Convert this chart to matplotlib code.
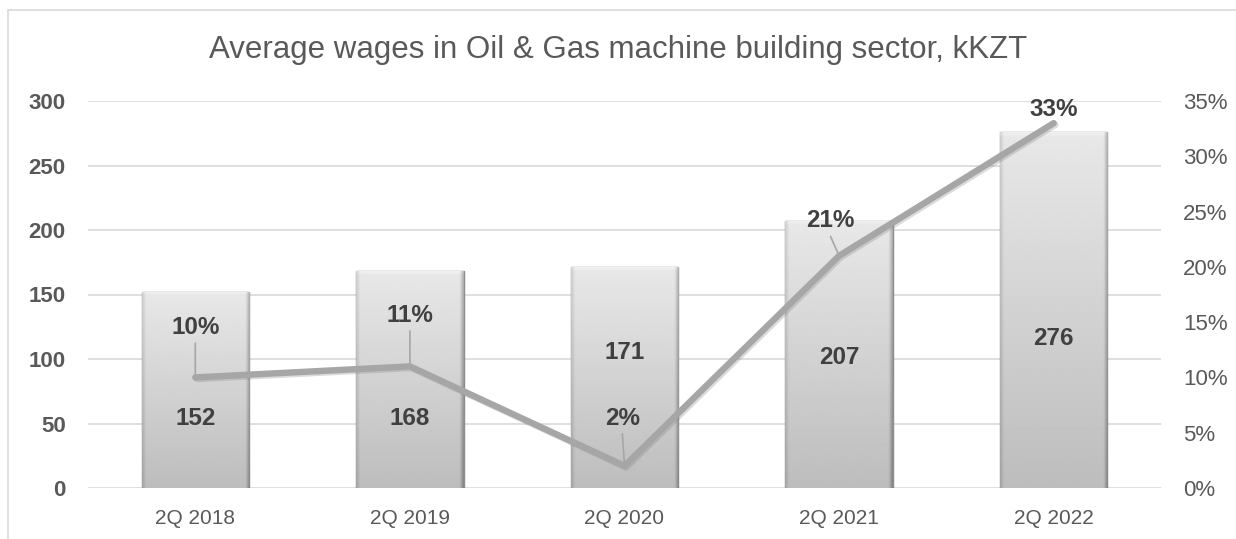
import numpy as np
import matplotlib
matplotlib.use("Agg")
import matplotlib.pyplot as plt
import matplotlib.patheffects as pe
from matplotlib.patches import Rectangle
from matplotlib.ticker import FuncFormatter

plt.rcParams['font.family'] = ['Liberation Sans', 'DejaVu Sans']

# data
quarters = ["2Q 2018", "2Q 2019", "2Q 2020", "2Q 2021", "2Q 2022"]
wages = [152, 168, 171, 207, 276]
growth = [0.10, 0.11, 0.02, 0.21, 0.33]
growth_labels = ["10%", "11%", "2%", "21%", "33%"]

# where the labels sit (layout only)
wage_label_y = [54, 54, 105, 101, 116]
growth_label_y = [0.145, 0.156, 0.063, 0.2415, 0.342]
growth_label_dx = [0.0, 0.0, -0.01, -0.04, 0.0]

TXT = "#595959"
DARK = "#404040"
GRID = "#d9d9d9"

fig = plt.figure(figsize=(12.36, 5.39), dpi=100)
ax = fig.add_axes([88 / 1236, 51 / 539, 1073 / 1236, 387 / 539])
ax2 = ax.twinx()

# outer chart border
fig.patches.append(Rectangle((8 / 1236, -0.05), 1.2, (529 / 539) + 0.05,
                             transform=fig.transFigure, fill=False,
                             edgecolor="#d9d9d9", lw=1.2))

x = np.arange(len(quarters))
bars = ax.bar(x, wages, width=0.5, color="#d0d0d0", edgecolor="#8c8c8c",
              lw=1.0, zorder=2)

# gradient fill on bars (light top, darker bottom, bevelled sides)
ny, nx = 300, 100
t = np.linspace(0, 1, ny)[:, None]
u = np.linspace(0, 1, nx)[None, :]
grad = 0.91 - 0.17 * t + 0 * u
left_edge = np.clip(1 - u / 0.035, 0, 1)
right_edge = np.clip(1 - (1 - u) / 0.035, 0, 1)
grad = grad - 0.10 * left_edge - 0.22 * right_edge
topband = np.clip(1 - t * ny / 5, 0, 1)
grad = grad + 0.04 * topband
grad = np.clip(grad, 0, 1)
for b in bars:
    x0, w, h = b.get_x(), b.get_width(), b.get_height()
    im = ax.imshow(grad, cmap="gray", vmin=0, vmax=1, aspect="auto",
                   extent=(x0, x0 + w, 0, h), zorder=2.5, interpolation="bilinear")
    im.set_clip_path(b)

ax.set_xlim(-0.5, len(quarters) - 0.5)
ax.set_ylim(0, 300)
ax.set_yticks(np.arange(0, 301, 50))
ax.grid(axis="y", color=GRID, lw=1.2, zorder=0)
ax.set_axisbelow(True)

for i, v in enumerate(wages):
    ax.text(x[i], wage_label_y[i], str(v), ha="center", va="center",
            fontsize=17.5, fontweight="bold", color=DARK, zorder=5)

ax2.set_ylim(0, 0.35)
ax2.set_yticks(np.arange(0, 0.351, 0.05))
ax2.yaxis.set_major_formatter(FuncFormatter(lambda v, p: f"{v * 100:.0f}%"))
ax2.plot(x, growth, color="#a6a6a6", lw=4.6, solid_capstyle="round",
         solid_joinstyle="round", zorder=3,
         path_effects=[pe.SimpleLineShadow(offset=(1.2, -1.2), shadow_color="#888888", alpha=0.3),
                       pe.Normal()])

for i, v in enumerate(growth):
    lx = x[i] + growth_label_dx[i]
    ly = growth_label_y[i]
    ax2.text(lx, ly, growth_labels[i], ha="center", va="center",
             fontsize=17.5, fontweight="bold", color=DARK, zorder=6)
    if i < len(growth) - 1:
        ax2.annotate("", xy=(x[i], v), xytext=(lx, ly - 0.014),
                     arrowprops=dict(arrowstyle="-", color="#a6a6a6", lw=1.2,
                                     shrinkA=0, shrinkB=0))

for a in (ax, ax2):
    for s in a.spines.values():
        s.set_visible(False)

ax.set_xticks(x)
ax.set_xticklabels(quarters)
ax.tick_params(axis="x", length=0, pad=15, labelsize=15, labelcolor=TXT)
ax.tick_params(axis="y", length=0, pad=16, labelsize=16, labelcolor=TXT)
for lab in ax.get_yticklabels():
    lab.set_fontweight("bold")
ax2.tick_params(axis="y", length=0, pad=16, labelsize=16, labelcolor=TXT)

fig.text(0.5, 0.907, "Average wages in Oil & Gas machine building sector, kKZT",
         ha="center", va="center", fontsize=22.5, color=TXT)

fig.savefig("out.png", dpi=100)
